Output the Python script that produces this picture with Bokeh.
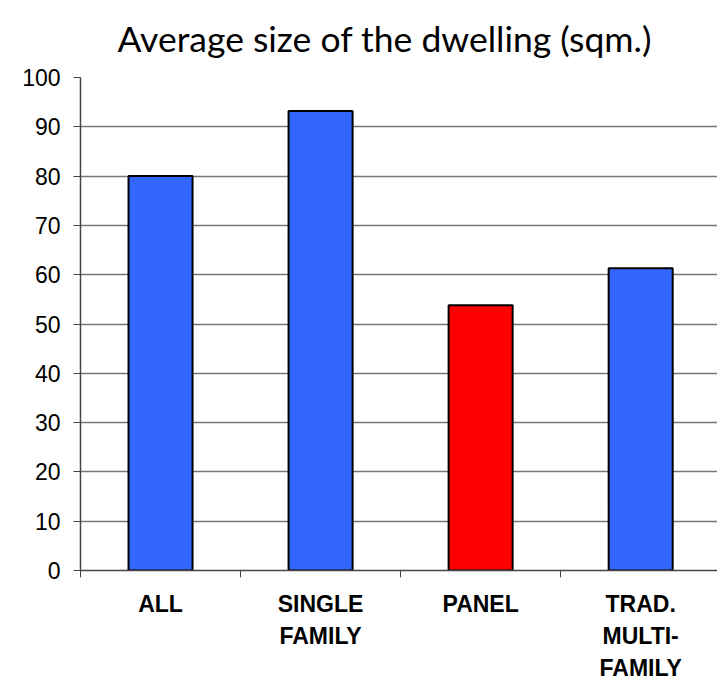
from bokeh.plotting import figure
from bokeh.models import FixedTicker, Range1d
from bokeh.embed import file_html
from bokeh.resources import INLINE

# Average dwelling size by building type (square metres)
categories = ["ALL", "SINGLE\nFAMILY", "PANEL", "TRAD.\nMULTI-\nFAMILY"]
avg_size = [80.0, 93.2, 53.8, 61.3]
bar_colors = ["#3366FF", "#3366FF", "#FF0000", "#3366FF"]
y_ticks = [0, 10, 20, 30, 40, 50, 60, 70, 80, 90, 100]

n = len(categories)
centers = [i + 0.5 for i in range(n)]
boundaries = list(range(n))

p = figure(
    frame_width=637, frame_height=493,
    output_backend="svg", toolbar_location=None,
    x_range=Range1d(0, 3.98), y_range=Range1d(0, 100),
    min_border_left=80, min_border_right=0,
    min_border_top=77, min_border_bottom=0,
    title="Average size of the dwelling (sqm.)",
)

p.title.align = "left"
p.title.offset = 37
p.title.vertical_align = "top"
p.title.standoff = 31
p.title.text_font = "Lato"
p.title.text_font_size = "35.5px"
p.title.text_font_style = "normal"
p.title.text_color = "#000000"

p.outline_line_color = None
p.background_fill_color = "white"
p.border_fill_color = "white"

p.vbar(x=centers, top=avg_size, width=0.4, bottom=0,
       fill_color=bar_colors, line_color="black", line_width=2)

# Horizontal gridlines at every 10
p.xgrid.visible = False
p.ygrid.ticker = FixedTicker(ticks=y_ticks)
p.ygrid.grid_line_color = "#777777"
p.ygrid.grid_line_width = 1.5

# Y axis
p.yaxis.ticker = FixedTicker(ticks=y_ticks)
p.yaxis.axis_line_color = "#444444"
p.yaxis.axis_line_width = 1.5
p.yaxis.major_tick_out = 7
p.yaxis.major_tick_in = 0
p.yaxis.major_tick_line_color = "#444444"
p.yaxis.minor_tick_line_color = None
p.yaxis.major_label_text_font = "Liberation Sans"
p.yaxis.major_label_text_font_size = "23px"
p.yaxis.major_label_text_color = "#000000"
p.yaxis.major_label_standoff = 13

# X axis: labels at category centres, tick marks at category boundaries
p.xaxis.ticker = FixedTicker(ticks=centers, minor_ticks=boundaries)
p.xaxis.major_label_overrides = {c: lab for c, lab in zip(centers, categories)}
p.xaxis.axis_line_color = "#444444"
p.xaxis.axis_line_width = 1.5
p.xaxis.major_tick_line_color = None
p.xaxis.minor_tick_out = 7
p.xaxis.minor_tick_in = 0
p.xaxis.minor_tick_line_color = "#444444"
p.xaxis.major_label_text_font = "Liberation Sans"
p.xaxis.major_label_text_font_style = "bold"
p.xaxis.major_label_text_font_size = "23px"
p.xaxis.major_label_text_color = "#000000"
p.xaxis.major_label_text_line_height = 1.24
p.xaxis.major_label_standoff = 13

open("out.html", "w").write(file_html(p, INLINE))
